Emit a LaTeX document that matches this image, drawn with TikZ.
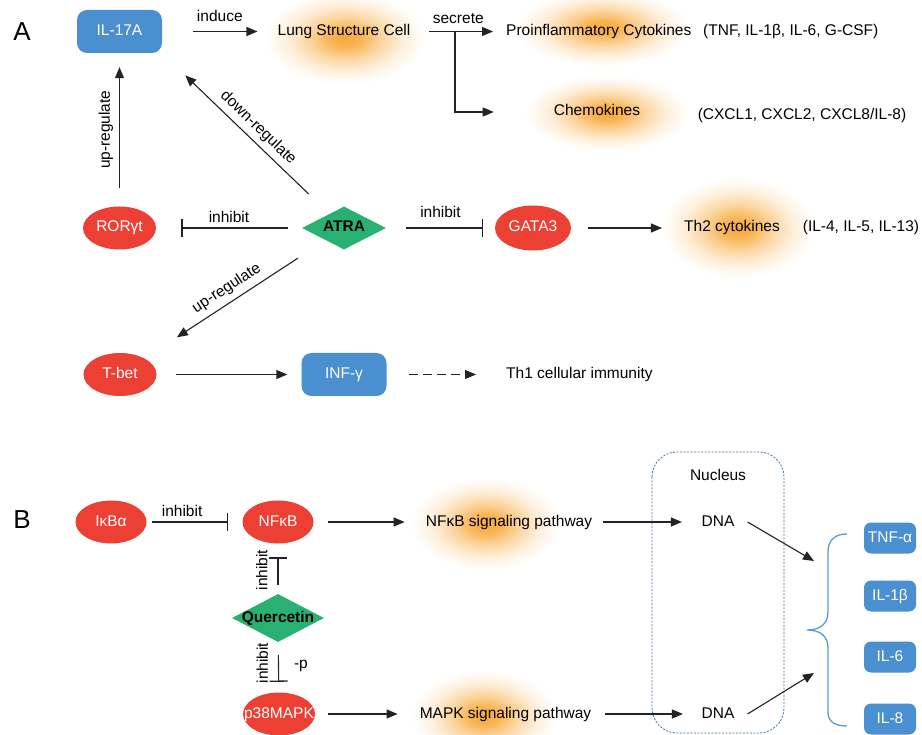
\documentclass[tikz,border=0pt]{standalone}
\usepackage{fontspec}
\setmainfont{Liberation Sans}
\usetikzlibrary{arrows.meta,shapes.geometric,calc}
\definecolor{boxblue}{RGB}{74,144,208}
\definecolor{cellred}{RGB}{237,64,53}
\definecolor{drugreen}{RGB}{41,176,115}
\definecolor{glowc}{RGB}{247,168,55}
\definecolor{braceblue}{RGB}{91,155,213}
\definecolor{nucblue}{RGB}{70,115,170}
\definecolor{linec}{RGB}{35,35,35}
\pgfdeclareradialshading{glow}{\pgfpoint{0bp}{0bp}}{color(0bp)=(glowc); color(5bp)=(glowc!85!white); color(11bp)=(glowc!50!white); color(18bp)=(glowc!18!white); color(25bp)=(white); color(50bp)=(white)}
\newcommand\fsz{\fontsize{15.5}{18}\selectfont}
\begin{document}
\begin{tikzpicture}[x=1pt,y=-1pt,
  txt/.style={inner sep=0pt, font=\fsz, text height=11pt, text depth=3pt},
  biglbl/.style={inner sep=0pt, font=\fontsize{26}{30}\selectfont},
  bluebox/.style={txt, fill=boxblue, text=white, rounded corners=10pt, minimum width=85pt, minimum height=43pt},
  smallbox/.style={txt, fill=boxblue, text=white, rounded corners=7pt, minimum width=52pt, minimum height=31pt},
  redell/.style={txt, ellipse, fill=cellred, text=white, minimum width=73pt, minimum height=43pt},
  drug/.style={diamond, fill=drugreen, inner sep=0pt, minimum width=84pt, minimum height=43pt},
  drugtxt/.style={txt, font=\bfseries\fsz, text=black},
  con/.style={draw=linec, line width=1.1pt},
  arr/.style={con, -{Triangle[length=11pt,width=9pt]}},
  inh/.style={con, -{Bar[width=18pt,line width=1.3pt]}},
  lbl/.style={txt, text=black}
]
\path[use as bounding box, fill=white] (0,0) rectangle (922,735);

% glows
\shade[shading=glow] (345,38) ellipse [x radius=80pt, y radius=46pt];
\shade[shading=glow] (603,28) ellipse [x radius=86pt, y radius=38pt];
\shade[shading=glow] (607,113) ellipse [x radius=82pt, y radius=38pt];
\shade[shading=glow] (738,228) ellipse [x radius=76pt, y radius=50pt];
\shade[shading=glow] (486,524) ellipse [x radius=74pt, y radius=46pt];
\shade[shading=glow] (484,716) ellipse [x radius=72pt, y radius=46pt];

% ---------- Panel A ----------
\node[biglbl] (labA) at (22,32) {A};
\node[bluebox] (il17) at (119.5,31.5) {IL-17A};
\node[txt] (lung) at (344,31.5) {Lung Structure Cell};
\node[txt, anchor=west] (pro) at (506,31.5) {Proinflammatory Cytokines};
\node[txt, anchor=west] (pronote) at (703,31.5) {(TNF, IL-1β, IL-6, G-CSF)};
\node[txt] (chem) at (597,112) {Chemokines};
\node[txt] (chemnote) at (802,116) {(CXCL1, CXCL2, CXCL8/IL-8)};
\node[redell] (ror) at (119.5,228) {RORγt};
\node[drug] (atra) at (344,228) {};
\node[drugtxt] (atraT) at (atra) {ATRA};
\node[redell, minimum width=76pt, minimum height=45pt] (gata) at (533,228) {GATA3};
\node[txt] (th2) at (732,228) {Th2 cytokines};
\node[txt] (th2note) at (861,228) {(IL-4, IL-5, IL-13)};
\node[redell] (tbet) at (120,374.5) {T-bet};
\node[bluebox] (inf) at (344,374.5) {INF-γ};
\node[txt, anchor=west] (th1) at (506,374.5) {Th1 cellular immunity};

\coordinate (br) at (455,31.5);
\draw[arr, shorten <=31pt, shorten >=20pt] (il17) -- (lung) node[lbl, midway, above=6pt] {induce};
\draw[arr, shorten <=18.5pt, shorten >=13pt] (lung) -- (pro) node[lbl, midway, above=4pt] {secrete};
\draw[arr, shorten >=60pt] (br) |- (chem.west);
\draw[arr, shorten <=18.5pt, shorten >=14pt] (ror) -- (il17) node[lbl, midway, rotate=90, above=6pt] {up-regulate};
\draw[inh, shorten <=14pt, shorten >=25pt] (atra) -- (ror) node[lbl, midway, above=2pt] {inhibit};
\draw[inh, shorten <=20pt, shorten >=12pt] (atra) -- (gata) node[lbl, midway, above=7pt] {inhibit};
\draw[arr, shorten <=17pt, shorten >=22pt] (gata) -- (th2);
\draw[arr, shorten <=49pt, shorten >=32pt] (atra.center) -- (il17.south east) node[lbl, pos=.52, sloped, above=5pt] {down-regulate};
\draw[arr, shorten <=55pt, shorten >=68pt] (atra.center) -- (tbet.center) node[lbl, pos=.49, sloped, above=6pt] {up-regulate};
\draw[arr, shorten <=19.5pt, shorten >=14pt] (tbet) -- (inf);
\draw[arr, dash pattern=on 9pt off 5pt, shorten <=22pt, shorten >=30pt] (inf) -- (th1);

% ---------- Panel B ----------
\node[biglbl] (labB) at (22,520) {B};
\node[redell, minimum width=71pt] (ikb) at (111,522) {IκBα};
\node[redell, minimum width=71pt] (nfkb) at (278,522) {NFκB};
\node[drug, minimum width=92pt, minimum height=48pt] (quer) at (278,618) {};
\node[drugtxt] (querT) at (quer) {Quercetin};
\node[redell, minimum width=72pt] (p38) at (279,714) {};
\node[txt, text=white] (p38T) at (p38) {p38MAPK};
\node[txt] (nfsig) at (509,522) {NFκB signaling pathway};
\node[txt] (mapksig) at (505.5,714) {MAPK signaling pathway};
\node[txt] (dnaU) at (718,522) {DNA};
\node[txt] (dnaL) at (718,714) {DNA};
\node[txt] (nuc) at (718,477) {Nucleus};
\draw[nucblue, line width=0.8pt, dash pattern=on 2pt off 1.5pt, rounded corners=25pt] (652,452) rectangle (784,733);

\node[smallbox] (tnf) at (890,538) {TNF-α};
\node[smallbox] (il1b) at (890,596) {IL-1β};
\node[smallbox] (il6) at (890,657) {IL-6};
\node[smallbox] (il8) at (890,719) {IL-8};

\draw[braceblue, line width=1.3pt] (847,534) .. controls (835,534) and (828,540) .. (828,552) -- (828,612) .. controls (828,624) and (820,630) .. (807,630) .. controls (820,630) and (828,636) .. (828,648) -- (828,712) .. controls (828,722) and (835,726) .. (847,726);
\coordinate (tU) at (814,561);
\coordinate (tL) at (814,673);

\draw[inh, shorten <=5.5pt, shorten >=14.5pt] (ikb) -- (nfkb) node[lbl, pos=.37, above=2pt] {inhibit};
\draw[arr, shorten <=14.5pt, shorten >=21pt] (nfkb) -- (nfsig);
\draw[arr, shorten <=11pt, shorten >=19.5pt] (nfsig) -- (dnaU);
\draw[arr] ([xshift=13pt]dnaU.east) -- (tU);
\draw[arr, shorten <=13pt, shorten >=22pt] (p38) -- (mapksig);
\draw[arr, shorten <=14pt, shorten >=18.5pt] (mapksig) -- (dnaL);
\draw[arr] ([xshift=13pt]dnaL.east) -- (tL);
\draw[inh, shorten <=9pt, shorten >=13.5pt] (quer) -- (nfkb) node[lbl, pos=.475, rotate=90, above=7pt] {inhibit};
\draw[inh, shorten <=13pt, shorten >=10.5pt] (quer) -- (p38) node[lbl, pos=.42, rotate=90, above=7pt] {inhibit} node[lbl, pos=.44, right=15pt] {-p};
\end{tikzpicture}
\end{document}
